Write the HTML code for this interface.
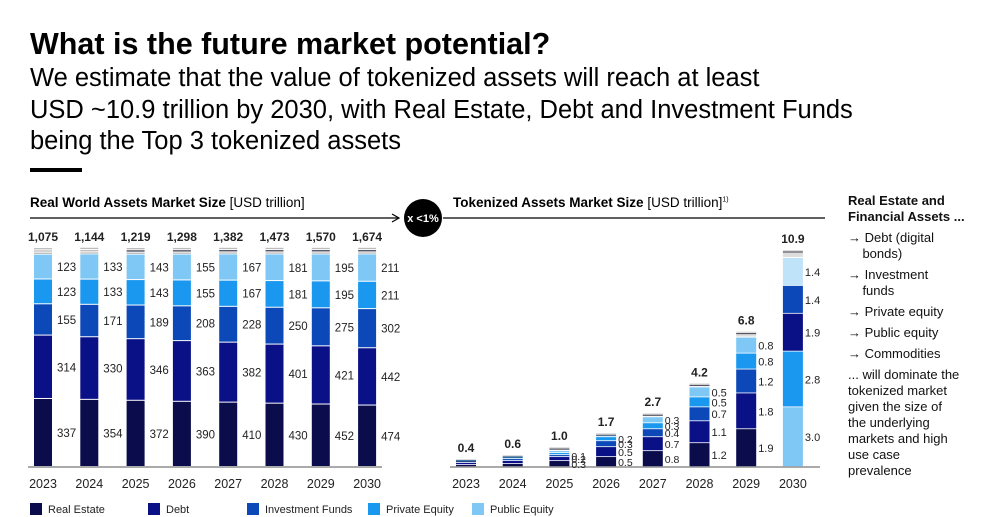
<!DOCTYPE html>
<html><head><meta charset="utf-8">
<style>
body{margin:0;width:1000px;height:517px;background:#fff;font-family:"Liberation Sans",sans-serif;overflow:hidden;position:relative}
.t{position:absolute;white-space:nowrap}
</style></head><body>
<div class="t" style="left:30px;top:27px;font-size:30.5px;font-weight:bold;color:#000">What is the future market potential?</div>
<div class="t" style="left:30px;top:63px;font-size:25.5px;line-height:31.5px;color:#000">We estimate that the value of tokenized assets will reach at least<br>USD ~10.9 trillion by 2030, with Real Estate, Debt and Investment Funds<br>being the Top 3 tokenized assets</div>
<div style="position:absolute;left:30px;top:168px;width:52px;height:4px;background:#000"></div>
<div class="t" style="left:30px;top:195px;font-size:13.5px;color:#000"><b>Real World Assets Market Size</b> [USD trillion]</div>
<div class="t" style="left:453px;top:195px;font-size:13.5px;color:#000"><b>Tokenized Assets Market Size</b> [USD trillion]<sup style="font-size:7px">1)</sup></div>
<div class="t" style="left:848px;top:193px;font-size:13px;line-height:16px;color:#111">
<b>Real Estate and<br>Financial Assets ...</b>
<div style="margin-top:5px">→ Debt (digital<br>&nbsp;&nbsp;&nbsp;&nbsp;bonds)</div>
<div style="margin-top:5px">→ Investment<br>&nbsp;&nbsp;&nbsp;&nbsp;funds</div>
<div style="margin-top:5px">→ Private equity</div>
<div style="margin-top:5px">→ Public equity</div>
<div style="margin-top:5px">→ Commodities</div>
<div style="margin-top:5px">... will dominate the<br>tokenized market<br>given the size of<br>the underlying<br>markets and high<br>use case<br>prevalence</div>
</div>
<svg id="c" width="1000" height="517" style="position:absolute;left:0;top:0">
<line x1="30" y1="218" x2="398" y2="218" stroke="#000" stroke-width="1.2"/>
<path d="M392,214 L399,218 L392,222" fill="none" stroke="#000" stroke-width="1.2"/>
<line x1="443" y1="218" x2="825" y2="218" stroke="#000" stroke-width="1.2"/>
<circle cx="423" cy="218" r="19" fill="#000"/>
<text x="423" y="222" text-anchor="middle" fill="#fff" font-size="11" font-weight="bold" font-family="Liberation Sans">x &lt;1%</text>
<line x1="28" y1="467" x2="382" y2="467" stroke="#777" stroke-width="1.2"/>
<line x1="450" y1="467" x2="820" y2="467" stroke="#777" stroke-width="1.2"/>
</svg>
<div id="legend"></div>
<script>
const years=["2023","2024","2025","2026","2027","2028","2029","2030"];
const rwaTotals=[1075,1144,1219,1298,1382,1473,1570,1674];
const rwaRealEstate=[337,354,372,390,410,430,452,474];
const rwaDebt=[314,330,346,363,382,401,421,442];
const rwaFunds=[155,171,189,208,228,250,275,302];
const rwaPrivate=[123,133,143,155,167,181,195,211];
const rwaPublic=[123,133,143,155,167,181,195,211];
const tokTotals=[0.4,0.6,1.0,1.7,2.7,4.2,6.8,10.9];
const tokSeg1=[0.1,0.15,0.3,0.5,0.8,1.2,1.9,3.0];
const tokSeg2=[0.1,0.15,0.2,0.5,0.7,1.1,1.8,2.8];
const tokSeg3=[0.1,0.1,0.1,0.3,0.4,0.7,1.2,1.9];
const tokSeg4=[0.05,0.1,0.1,0.2,0.3,0.5,0.8,1.4];
const tokSeg5=[0.05,0.05,0.1,0.1,0.3,0.5,0.8,1.4];
const tokLabels=[[],[],["0.3","0.2","0.1"],["0.5","0.5","0.3","0.2"],["0.8","0.7","0.4","0.3","0.3"],["1.2","1.1","0.7","0.5","0.5"],["1.9","1.8","1.2","0.8","0.8"],["3.0","2.8","1.9","1.4","1.4"]];
const C=["#0a0c4c","#0a1085","#0d48b8","#1a98ef","#7fc7f5"];
const C2030=["#7fc7f5","#1a98ef","#0a1085","#0d48b8","#bfe3f9"];
const svg=document.getElementById('c');const NS="http://www.w3.org/2000/svg";
function mk(tag,a){const e=document.createElementNS(NS,tag);for(const k in a)e.setAttribute(k,a[k]);svg.appendChild(e);return e;}
function txt(x,y,s,size,bold,anchor){const e=mk('text',{x:x,y:y,'font-size':size,'font-family':'Liberation Sans','font-weight':bold?'bold':'normal','text-anchor':anchor||'start',fill:'#222'});e.textContent=s;return e;}
const base=467,H=217;
const lx=i=>43+i*46.3;
years.forEach((y,i)=>{
 const segs=[rwaRealEstate[i],rwaDebt[i],rwaFunds[i],rwaPrivate[i],rwaPublic[i]];
 const sc=v=>v/rwaTotals[i]*H;
 let yy=base;
 segs.forEach((v,k)=>{const h=sc(v);const r=mk('rect',{x:lx(i)-9,y:yy-h,width:18,height:h-1,fill:C[k]});
  
  const t=txt(lx(i)+14,yy-h/2+4,String(v),11.5,false);yy-=h;});
 const top=base-H;
 [0,1,2].forEach(k=>{mk('rect',{x:lx(i)-9,y:yy-2-k*2.3,width:18,height:1.3,fill:k==1&&i>=2?"#445":"#bbb"});});
 const t=txt(lx(i),top-9,rwaTotals[i].toLocaleString('en-US'),12,true,'middle');
 const yl=txt(lx(i),488,y,12.5,false,'middle');
});
const rx=i=>466+i*46.7;const u=H/10.9;
years.forEach((y,i)=>{
 const segs=[tokSeg1[i],tokSeg2[i],tokSeg3[i],tokSeg4[i],tokSeg5[i]];
 const cols=i==7?C2030:C;
 let yy=base;
 segs.forEach((v,k)=>{const h=v*u;const r=mk('rect',{x:rx(i)-10,y:yy-h,width:20,height:Math.max(h-0.8,0.8),fill:cols[k]});
  
  const lab=tokLabels[i][k];
  if(lab){const t=txt(rx(i)+12,yy-h/2+4,lab,i>=5?11:10.5,false);}
  yy-=h;});
 const top=base-tokTotals[i]*u;
 mk('rect',{x:rx(i)-10,y:top,width:20,height:Math.max(yy-top-1,1),fill:'#ddd'});
 mk('rect',{x:rx(i)-10,y:top+1.5,width:20,height:1,fill:'#445'});
 const t=txt(rx(i),top-7,tokTotals[i].toFixed(1),12,true,'middle');
 const yl=txt(rx(i),488,y,12.5,false,'middle');
});
const legNames=["Real Estate","Debt","Investment Funds","Private Equity","Public Equity"];
const legX=[30,148,247,368,472];
legNames.forEach((n,k)=>{const g=mk('g',{});
 
 const r=document.createElementNS(NS,'rect');r.setAttribute('x',legX[k]);r.setAttribute('y',503);r.setAttribute('width',12);r.setAttribute('height',12);r.setAttribute('fill',C[k]);g.appendChild(r);
 const t=document.createElementNS(NS,'text');t.setAttribute('x',legX[k]+18);t.setAttribute('y',513);t.setAttribute('font-size','11');t.setAttribute('font-family','Liberation Sans');t.setAttribute('fill','#222');t.textContent=n;g.appendChild(t);});
</script>
</body></html>
